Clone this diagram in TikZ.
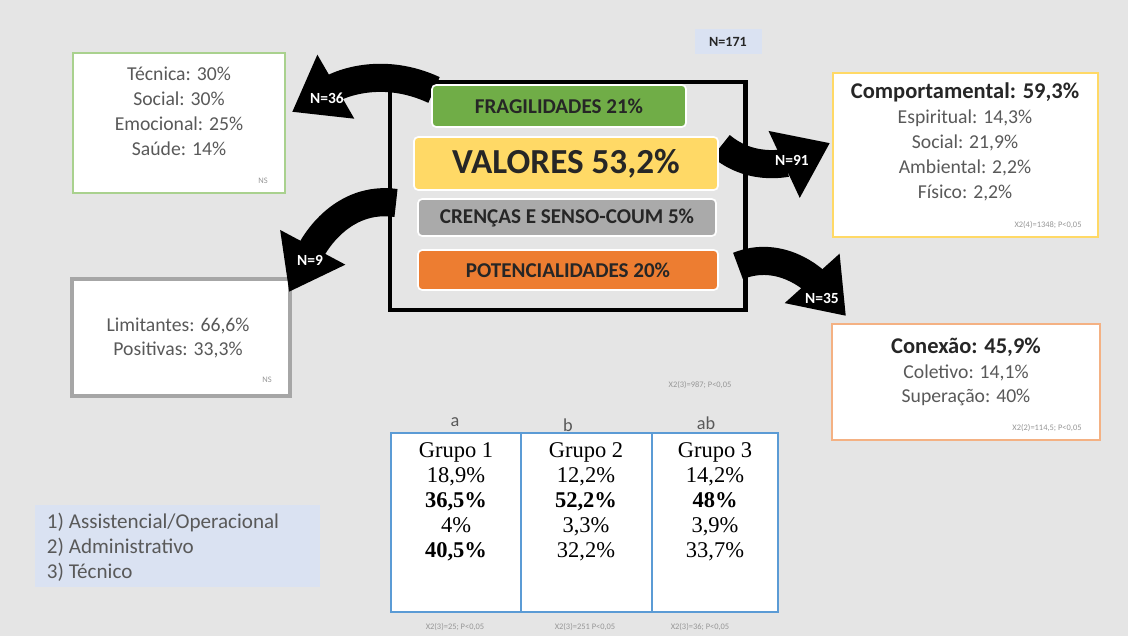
\documentclass[tikz,border=0pt]{standalone}
\usepackage{fontspec}
\setmainfont{Carlito}
\newfontfamily\tabfont{Liberation Serif}
\usetikzlibrary{arrows.meta}
\definecolor{bgcol}{RGB}{229,229,229}
\definecolor{grnline}{RGB}{169,209,142}
\definecolor{grnfill}{RGB}{112,173,71}
\definecolor{ylwfill}{RGB}{255,217,102}
\definecolor{gryfill}{RGB}{170,170,170}
\definecolor{orgfill}{RGB}{237,125,49}
\definecolor{orgline}{RGB}{244,177,131}
\definecolor{gryline}{RGB}{166,166,166}
\definecolor{tblblue}{RGB}{91,155,213}
\definecolor{lgdfill}{RGB}{218,226,242}
\definecolor{txtgray}{RGB}{89,89,89}
\definecolor{darktxt}{RGB}{38,38,38}
\definecolor{statgray}{RGB}{150,150,150}

\begin{document}
\begin{tikzpicture}[x=0.025cm,y=0.025cm,
  txt/.style={text=txtgray,font=\fontsize{14}{17.7}\selectfont,align=center},
  box/.style={fill=white,line width=2pt,inner sep=0pt},
  tag/.style={rounded corners=3pt,draw=white,line width=1.2pt,inner sep=0pt,text=darktxt,font=\bfseries\fontsize{15}{18}\selectfont},
  stat/.style={text=statgray,font=\fontsize{6}{7}\selectfont},
  cell/.style={draw=tblblue,line width=1.4pt,fill=white,minimum height=4.475cm,inner sep=0pt},
  celltxt/.style={align=center,font=\tabfont\fontsize{16}{17.7}\selectfont},
  bigarrow/.style={line width=20pt,-{Triangle[width=50pt,length=36pt]}},
  nlab/.style={text=white,font=\bfseries\fontsize{11}{13}\selectfont}]
\useasboundingbox (0,0) rectangle (1128,-636);
\fill[bgcol] (0,0) rectangle (1128,-636);

% left boxes
\node[box,draw=grnline,minimum width=5.3cm,minimum height=3.5cm] (fragbox) at (179,-123) {};
\node[txt] (fragtxt) at (179,-111) {Técnica: 30\%\\Social: 30\%\\Emocional: 25\%\\Saúde: 14\%};
\node[stat] (fragns) at (263,-181) {NS};
\node[box,draw=gryline,line width=2.6pt,minimum width=5.45cm,minimum height=2.925cm] (crenbox) at (181,-337.5) {};
\node[txt] (crentxt) at (178,-338) {Limitantes: 66,6\%\\Positivas: 33,3\%};
\node[stat] (crenns) at (267,-380) {NS};

% central frame
\node[draw,line width=3.5pt,minimum width=8.875cm,minimum height=5.7cm] (frame) at (567.5,-196) {};
\node[fill=lgdfill,minimum width=1.675cm,minimum height=0.625cm,font=\bfseries\fontsize{10}{12}\selectfont,text=darktxt] (total) at (728,-42) {N=171};

% arrows
\coordinate (s36) at (434,-90);
\coordinate (e36) at (292,-112);
\coordinate (s9) at (396,-203);
\coordinate (e9) at (289,-292);
\coordinate (s91) at (721,-146);
\coordinate (e91) at (830,-143);
\coordinate (s35) at (738,-266);
\coordinate (e35) at (846,-316);
\draw[bigarrow] (s36) to[out=155,in=30] (e36);
\draw[bigarrow] (s9) to[out=172,in=62] (e9);
\draw[bigarrow] (s91) to[out=-40,in=205] (e91);
\draw[bigarrow] (s35) to[out=22,in=132] (e35);
\node[nlab] (l36) at (327,-98) {N=36};
\node[nlab] (l9) at (310,-260) {N=9};
\node[nlab] (l91) at (792,-160) {N=91};
\node[nlab] (l35) at (822,-298) {N=35};

% categories
\node[tag,fill=grnfill,minimum width=6.35cm,minimum height=1.05cm] (frag) at (559,-106) {FRAGILIDADES 21\%};
\node[tag,fill=ylwfill,minimum width=7.6cm,minimum height=1.325cm,font=\bfseries\fontsize{25}{28}\selectfont] (val) at (566,-163.5) {VALORES 53,2\%};
\node[tag,fill=gryfill,minimum width=7.45cm,minimum height=0.925cm] (cren) at (567,-217.5) {CRENÇAS E SENSO-COUM 5\%};
\node[tag,fill=orgfill,minimum width=7.5cm,minimum height=1cm] (pot) at (568,-270) {POTENCIALIDADES 20\%};

% right boxes
\node[box,draw=ylwfill,minimum width=6.625cm,minimum height=4.1cm] (valbox) at (965.5,-155) {};
\node[txt] (valtxt) at (965,-142) {\textcolor{darktxt}{\bfseries\fontsize{16}{17.7}\selectfont Comportamental: 59,3\%}\\Espiritual: 14,3\%\\Social: 21,9\%\\Ambiental: 2,2\%\\Físico: 2,2\%};
\node[stat] (valstat) at (1048,-225) {X2(4)=1348; P<0,05};
\node[box,draw=orgline,minimum width=6.7cm,minimum height=2.9cm] (potbox) at (966,-382) {};
\node[txt] (pottxt) at (966,-372) {\textcolor{darktxt}{\bfseries\fontsize{16}{17.7}\selectfont Conexão: 45,9\%}\\Coletivo: 14,1\%\\Superação: 40\%};
\node[stat] (potstat) at (1047,-428) {X2(2)=114,5; P<0,05};
\node[stat] (midstat) at (700,-385) {X2(3)=987; P<0,05};

% groups
\node[cell,minimum width=3.25cm] (g1) at (456,-522.5) {};
\node[cell,minimum width=3.275cm] (g2) at (586.5,-522.5) {};
\node[cell,minimum width=3.15cm] (g3) at (715,-522.5) {};
\node[celltxt] (g1txt) at (456,-502) {Grupo 1\\18,9\%\\\textbf{36,5\%}\\4\%\\\textbf{40,5\%}};
\node[celltxt] (g2txt) at (586,-502) {Grupo 2\\12,2\%\\\textbf{52,2\%}\\3,3\%\\32,2\%};
\node[celltxt] (g3txt) at (715,-502) {Grupo 3\\14,2\%\\\textbf{48\%}\\3,9\%\\33,7\%};
\node[text=txtgray,font=\fontsize{13}{15}\selectfont] (g1let) at (455,-422) {a};
\node[text=txtgray,font=\fontsize{13}{15}\selectfont] (g2let) at (568,-425) {b};
\node[text=txtgray,font=\fontsize{13}{15}\selectfont] (g3let) at (706,-423) {ab};
\node[stat] (g1stat) at (455,-627) {X2(3)=25; P<0,05};
\node[stat] (g2stat) at (585,-627) {X2(3)=251 P<0,05};
\node[stat] (g3stat) at (700,-627) {X2(3)=36; P<0,05};

% legend
\node[fill=lgdfill,minimum width=7.125cm,minimum height=2.05cm] (lgd) at (177.5,-546) {};
\node[anchor=west,align=left,text=txtgray,font=\fontsize{15}{17.7}\selectfont] (lgdtxt) at (42,-547) {1) Assistencial/Operacional\\2) Administrativo\\3) Técnico};
\end{tikzpicture}
\end{document}
